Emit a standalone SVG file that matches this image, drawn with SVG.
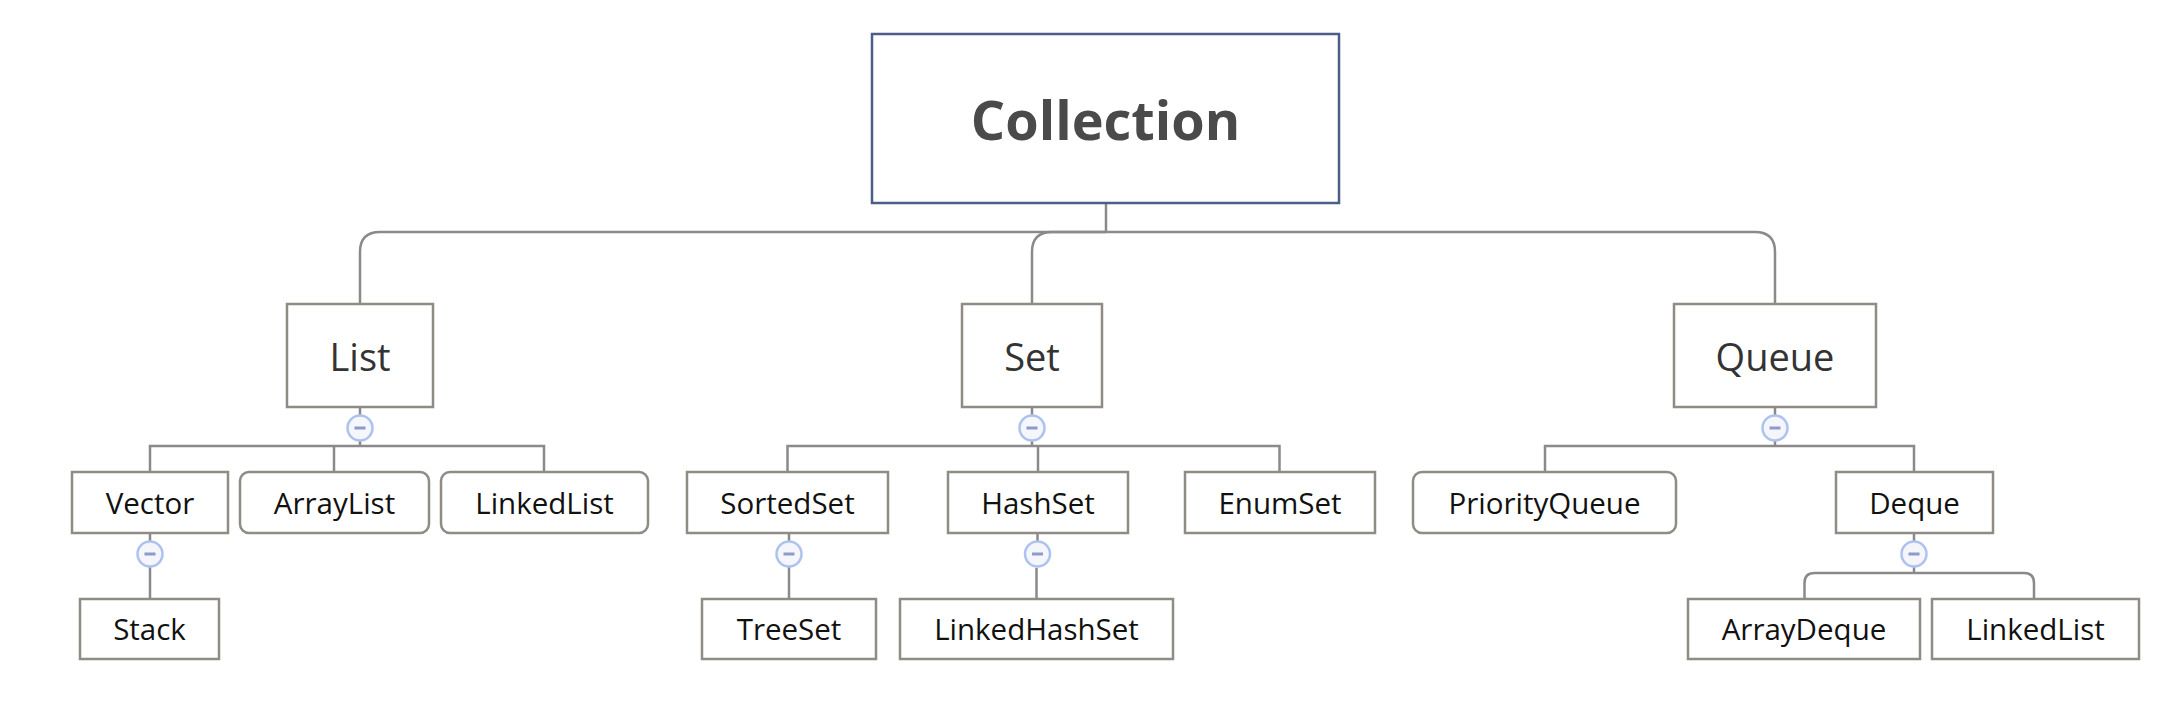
<svg xmlns="http://www.w3.org/2000/svg" width="2158" height="702" viewBox="0 0 2158 702">
<style>
.bg{fill:#ffffff}
.n{fill:#ffffff;stroke:#8f8b85;stroke-width:2.5}
.root{fill:#ffffff;stroke:#4b5d88;stroke-width:2.5}
.c{fill:none;stroke:#8a8a8a;stroke-width:2.5}
.t0{font-family:"Open Sans","Liberation Sans",sans-serif;font-weight:bold;font-size:54px;fill:#4a4a4a;text-anchor:middle}
.t1{font-family:"Open Sans","Liberation Sans",sans-serif;font-size:38px;fill:#333333;text-anchor:middle}
.t2{font-family:"Open Sans","Liberation Sans",sans-serif;font-size:29.5px;fill:#111111;text-anchor:middle}
.fold circle{fill:#f4f6fb;stroke:#adc3ee;stroke-width:2.5}
.fold line{stroke:#8e9bc9;stroke-width:3}
</style>
<defs>
<g id="fold" class="fold"><circle cx="0" cy="0" r="12.5"/><line x1="-5.5" y1="0" x2="5.5" y2="0"/></g>
</defs>
<rect class="bg" x="0" y="0" width="2158" height="702"/>
<g id="connectors">
<path class="c" d="M1106,203 V232"/>
<path class="c" d="M1106,232 H380 Q360,232 360,252 V304"/>
<path class="c" d="M1106,232 H1052 Q1032,232 1032,252 V304"/>
<path class="c" d="M1106,232 H1755 Q1775,232 1775,252 V304"/>
<path class="c" d="M360,407 V446 M150,472 V446 H544 V472 M334,446 V472"/>
<path class="c" d="M1032,407 V446 M787.5,472 V446 H1279.5 V472 M1038,446 V472"/>
<path class="c" d="M1775,407 V446 M1545,472 V446 H1914 V472"/>
<path class="c" d="M150,533 V599"/>
<path class="c" d="M789,533 V599"/>
<path class="c" d="M1037.5,533 V560 M1036.5,568 V599"/>
<path class="c" d="M1914,533 V573 M1804.5,598 V583 Q1804.5,573 1814.5,573 H2024 Q2034,573 2034,583 V598"/>
<use href="#fold" x="360" y="428"/>
<use href="#fold" x="1032" y="428"/>
<use href="#fold" x="1775" y="428"/>
<use href="#fold" x="150" y="554"/>
<use href="#fold" x="789" y="554"/>
<use href="#fold" x="1037.5" y="554"/>
<use href="#fold" x="1914" y="554"/>
</g>
<g id="collection"><rect class="root" x="872" y="34" width="467" height="169"/><text class="t0" x="1105.5" y="140">Collection</text></g>
<g id="list"><rect class="n" x="287" y="304" width="146" height="103"/><text class="t1" x="360" y="371">List</text></g>
<g id="set"><rect class="n" x="962" y="304" width="140" height="103"/><text class="t1" x="1032" y="371">Set</text></g>
<g id="queue"><rect class="n" x="1674" y="304" width="202" height="103"/><text class="t1" x="1775" y="371">Queue</text></g>
<g id="vector"><rect class="n" x="72" y="472" width="156" height="61"/><text class="t2" x="150" y="514">Vector</text></g>
<g id="arraylist"><rect class="n" x="240" y="472" width="189" height="61" rx="9"/><text class="t2" x="334.5" y="514">ArrayList</text></g>
<g id="linkedlist1"><rect class="n" x="441" y="472" width="207" height="61" rx="9"/><text class="t2" x="544.5" y="514">LinkedList</text></g>
<g id="sortedset"><rect class="n" x="687" y="472" width="201" height="61"/><text class="t2" x="787.5" y="514">SortedSet</text></g>
<g id="hashset"><rect class="n" x="948" y="472" width="180" height="61"/><text class="t2" x="1038" y="514">HashSet</text></g>
<g id="enumset"><rect class="n" x="1185" y="472" width="190" height="61"/><text class="t2" x="1280" y="514">EnumSet</text></g>
<g id="priorityqueue"><rect class="n" x="1413" y="472" width="263" height="61" rx="9"/><text class="t2" x="1544.5" y="514">PriorityQueue</text></g>
<g id="deque"><rect class="n" x="1836" y="472" width="157" height="61"/><text class="t2" x="1914.5" y="514">Deque</text></g>
<g id="stack"><rect class="n" x="80" y="599" width="139" height="60"/><text class="t2" x="149.5" y="640">Stack</text></g>
<g id="treeset"><rect class="n" x="702" y="599" width="174" height="60"/><text class="t2" x="789" y="640">TreeSet</text></g>
<g id="linkedhashset"><rect class="n" x="900" y="599" width="273" height="60"/><text class="t2" x="1036.5" y="640">LinkedHashSet</text></g>
<g id="arraydeque"><rect class="n" x="1688" y="599" width="232" height="60"/><text class="t2" x="1804" y="640">ArrayDeque</text></g>
<g id="linkedlist2"><rect class="n" x="1932" y="599" width="207" height="60"/><text class="t2" x="2035.5" y="640">LinkedList</text></g>
</svg>
